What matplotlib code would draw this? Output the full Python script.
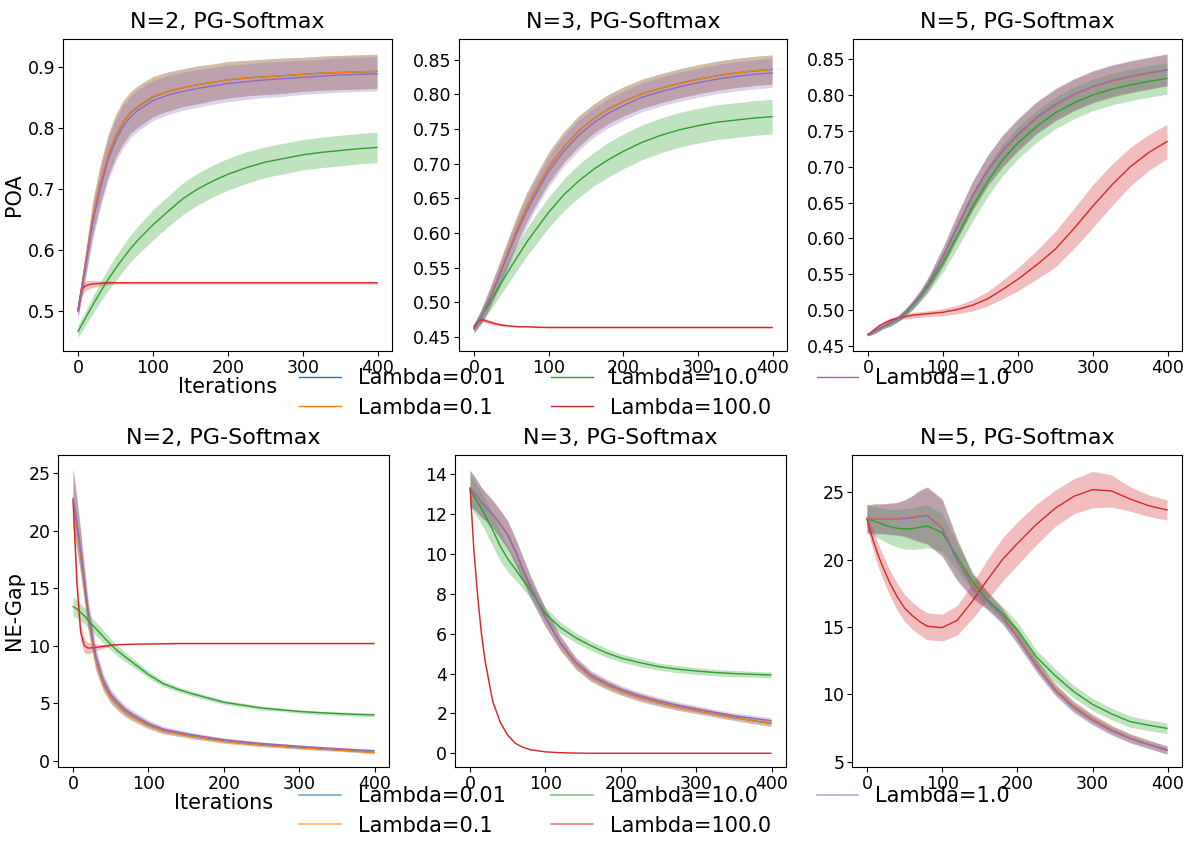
import matplotlib
matplotlib.use("Agg")
import matplotlib.pyplot as plt
from matplotlib.lines import Line2D
import numpy as np

iters = [0, 5, 10, 15, 20, 30, 40, 50, 60, 70, 80, 100, 120, 140, 160, 180, 200, 225, 250, 275, 300, 325, 350, 375, 399]

lambdas = ["0.01", "0.1", "10.0", "100.0", "1.0"]
colors = ["C0", "C1", "C2", "C3", "C4"]

# ---- POA, N=2 ----
poa2_l001 = [0.501, 0.539, 0.577, 0.616, 0.654, 0.709, 0.754, 0.786, 0.809, 0.825, 0.835, 0.851, 0.860, 0.866, 0.871, 0.875, 0.879, 0.882, 0.884, 0.886, 0.888, 0.890, 0.891, 0.892, 0.893]
poa2_l01 = [0.502, 0.540, 0.578, 0.617, 0.655, 0.710, 0.755, 0.787, 0.810, 0.826, 0.836, 0.852, 0.860, 0.866, 0.871, 0.875, 0.879, 0.882, 0.884, 0.886, 0.888, 0.890, 0.891, 0.892, 0.893]
poa2_l10 = [0.466, 0.477, 0.488, 0.499, 0.510, 0.531, 0.551, 0.569, 0.586, 0.602, 0.616, 0.641, 0.663, 0.684, 0.700, 0.713, 0.724, 0.735, 0.744, 0.750, 0.756, 0.760, 0.763, 0.766, 0.768]
poa2_l100 = [0.500, 0.535, 0.541, 0.543, 0.544, 0.545, 0.546, 0.546, 0.546, 0.546, 0.546, 0.546, 0.546, 0.546, 0.546, 0.546, 0.546, 0.546, 0.546, 0.546, 0.546, 0.546, 0.546, 0.546, 0.546]
poa2_l1 = [0.500, 0.536, 0.572, 0.610, 0.647, 0.702, 0.747, 0.779, 0.802, 0.818, 0.829, 0.845, 0.854, 0.860, 0.865, 0.869, 0.873, 0.876, 0.879, 0.881, 0.883, 0.885, 0.887, 0.888, 0.889]
poa2_sd_main = [0.010, 0.015, 0.020, 0.024, 0.028, 0.032, 0.034, 0.035, 0.035, 0.034, 0.034, 0.033, 0.032, 0.031, 0.031, 0.030, 0.030, 0.029, 0.029, 0.029, 0.028, 0.028, 0.028, 0.028, 0.028]
poa2_sd_l10 = [0.010, 0.011, 0.012, 0.013, 0.014, 0.016, 0.018, 0.020, 0.021, 0.022, 0.023, 0.025, 0.025, 0.026, 0.026, 0.026, 0.026, 0.026, 0.025, 0.025, 0.025, 0.025, 0.025, 0.025, 0.025]
poa2_sd_l100 = [0.012, 0.010, 0.008, 0.007, 0.006, 0.004, 0.003, 0.002, 0.002, 0.002, 0.002, 0.002, 0.002, 0.002, 0.002, 0.002, 0.002, 0.002, 0.002, 0.002, 0.002, 0.002, 0.002, 0.002, 0.002]

# ---- POA, N=3 ----
poa3_l001 = [0.462, 0.471, 0.481, 0.492, 0.504, 0.530, 0.557, 0.585, 0.612, 0.636, 0.657, 0.695, 0.724, 0.747, 0.765, 0.779, 0.790, 0.801, 0.809, 0.816, 0.822, 0.827, 0.831, 0.834, 0.836]
poa3_l01 = [0.462, 0.471, 0.481, 0.492, 0.504, 0.530, 0.557, 0.585, 0.612, 0.636, 0.657, 0.695, 0.724, 0.747, 0.765, 0.779, 0.790, 0.801, 0.809, 0.816, 0.822, 0.827, 0.831, 0.834, 0.836]
poa3_l10 = [0.465, 0.472, 0.480, 0.489, 0.498, 0.516, 0.534, 0.552, 0.569, 0.586, 0.601, 0.630, 0.655, 0.675, 0.692, 0.706, 0.718, 0.731, 0.741, 0.749, 0.755, 0.760, 0.763, 0.766, 0.768]
poa3_l100 = [0.465, 0.472, 0.475, 0.474, 0.472, 0.469, 0.467, 0.466, 0.465, 0.465, 0.4645, 0.464, 0.464, 0.464, 0.464, 0.464, 0.464, 0.464, 0.464, 0.464, 0.464, 0.464, 0.464, 0.464, 0.464]
poa3_l1 = [0.462, 0.470, 0.480, 0.491, 0.503, 0.528, 0.554, 0.581, 0.607, 0.630, 0.651, 0.689, 0.718, 0.741, 0.759, 0.773, 0.784, 0.796, 0.804, 0.811, 0.817, 0.822, 0.826, 0.829, 0.831]
poa3_sd_main = [0.006, 0.008, 0.010, 0.012, 0.014, 0.016, 0.018, 0.019, 0.020, 0.021, 0.021, 0.022, 0.022, 0.022, 0.021, 0.021, 0.021, 0.021, 0.021, 0.021, 0.021, 0.021, 0.021, 0.021, 0.021]
poa3_sd_l10 = [0.006, 0.008, 0.010, 0.011, 0.012, 0.014, 0.016, 0.018, 0.019, 0.020, 0.021, 0.022, 0.023, 0.024, 0.024, 0.025, 0.025, 0.025, 0.025, 0.025, 0.025, 0.025, 0.025, 0.025, 0.025]
poa3_sd_l100 = [0.004, 0.004, 0.004, 0.003, 0.003, 0.002, 0.002, 0.001, 0.001, 0.001, 0.001, 0.001, 0.001, 0.001, 0.001, 0.001, 0.001, 0.001, 0.001, 0.001, 0.001, 0.001, 0.001, 0.001, 0.001]

# ---- POA, N=5 ----
poa5_l001 = [0.466, 0.468, 0.471, 0.474, 0.477, 0.482, 0.488, 0.497, 0.508, 0.521, 0.536, 0.574, 0.618, 0.660, 0.695, 0.722, 0.744, 0.768, 0.786, 0.800, 0.811, 0.819, 0.825, 0.830, 0.835]
poa5_l01 = [0.466, 0.468, 0.471, 0.474, 0.477, 0.482, 0.488, 0.497, 0.508, 0.521, 0.536, 0.574, 0.618, 0.660, 0.695, 0.722, 0.744, 0.768, 0.786, 0.800, 0.811, 0.819, 0.825, 0.830, 0.835]
poa5_l10 = [0.466, 0.468, 0.471, 0.474, 0.477, 0.482, 0.488, 0.496, 0.507, 0.519, 0.533, 0.566, 0.605, 0.645, 0.680, 0.710, 0.733, 0.756, 0.775, 0.789, 0.800, 0.808, 0.814, 0.819, 0.823]
poa5_l100 = [0.466, 0.470, 0.474, 0.478, 0.481, 0.486, 0.489, 0.491, 0.493, 0.494, 0.495, 0.497, 0.501, 0.507, 0.516, 0.529, 0.543, 0.563, 0.585, 0.614, 0.645, 0.674, 0.700, 0.720, 0.735]
poa5_l1 = [0.466, 0.468, 0.471, 0.474, 0.477, 0.482, 0.488, 0.497, 0.508, 0.521, 0.536, 0.575, 0.619, 0.661, 0.696, 0.723, 0.745, 0.769, 0.787, 0.801, 0.812, 0.820, 0.826, 0.831, 0.835]
poa5_sd_main = [0.002, 0.002, 0.003, 0.003, 0.003, 0.004, 0.004, 0.005, 0.006, 0.007, 0.009, 0.013, 0.017, 0.020, 0.021, 0.022, 0.022, 0.022, 0.022, 0.022, 0.022, 0.022, 0.022, 0.022, 0.022]
poa5_sd_l10 = [0.002, 0.002, 0.003, 0.003, 0.003, 0.004, 0.004, 0.005, 0.006, 0.007, 0.009, 0.013, 0.017, 0.020, 0.021, 0.022, 0.022, 0.022, 0.022, 0.022, 0.022, 0.022, 0.022, 0.022, 0.022]
poa5_sd_l100 = [0.002, 0.002, 0.002, 0.002, 0.003, 0.003, 0.003, 0.003, 0.004, 0.004, 0.004, 0.005, 0.006, 0.008, 0.010, 0.013, 0.016, 0.020, 0.025, 0.028, 0.030, 0.029, 0.027, 0.025, 0.024]

# ---- NE-Gap, N=2 ----
gap2_l001 = [22.7, 20.5, 18.0, 15.2, 12.5, 8.7, 6.7, 5.5, 4.8, 4.2, 3.8, 3.1, 2.62, 2.37, 2.12, 1.92, 1.72, 1.55, 1.40, 1.29, 1.17, 1.07, 0.97, 0.87, 0.75]
gap2_l01 = [22.7, 20.5, 18.0, 15.2, 12.5, 8.7, 6.7, 5.5, 4.8, 4.2, 3.8, 3.1, 2.60, 2.35, 2.10, 1.90, 1.70, 1.53, 1.38, 1.27, 1.15, 1.05, 0.95, 0.85, 0.72]
gap2_l10 = [13.4, 13.2, 12.9, 12.6, 12.2, 11.5, 10.8, 10.1, 9.5, 9.0, 8.5, 7.5, 6.7, 6.2, 5.8, 5.45, 5.1, 4.85, 4.6, 4.45, 4.3, 4.2, 4.12, 4.05, 4.0]
gap2_l100 = [22.5, 15.5, 11.2, 10.0, 9.8, 9.85, 9.95, 10.05, 10.1, 10.12, 10.14, 10.16, 10.18, 10.2, 10.2, 10.2, 10.2, 10.2, 10.2, 10.2, 10.2, 10.2, 10.2, 10.2, 10.2]
gap2_l1 = [22.8, 20.8, 18.4, 15.7, 13.0, 9.1, 7.0, 5.75, 5.0, 4.4, 4.0, 3.25, 2.75, 2.5, 2.25, 2.05, 1.85, 1.68, 1.52, 1.40, 1.28, 1.17, 1.07, 0.98, 0.90]
gap2_sd_main = [2.6, 2.2, 1.8, 1.4, 1.1, 0.8, 0.6, 0.5, 0.45, 0.4, 0.35, 0.3, 0.25, 0.22, 0.2, 0.18, 0.16, 0.15, 0.14, 0.13, 0.12, 0.12, 0.11, 0.11, 0.1]
gap2_sd_l10 = [0.8, 0.8, 0.75, 0.7, 0.65, 0.6, 0.55, 0.5, 0.45, 0.4, 0.35, 0.3, 0.25, 0.22, 0.2, 0.2, 0.18, 0.17, 0.16, 0.15, 0.15, 0.15, 0.15, 0.15, 0.15]
gap2_sd_l100 = [1.5, 1.2, 0.8, 0.6, 0.5, 0.3, 0.15, 0.08, 0.05, 0.05, 0.05, 0.05, 0.05, 0.05, 0.05, 0.05, 0.05, 0.05, 0.05, 0.05, 0.05, 0.05, 0.05, 0.05, 0.05]

# ---- NE-Gap, N=3 ----
gap3_l001 = [13.3, 13.1, 12.85, 12.6, 12.4, 12.0, 11.5, 10.95, 10.15, 9.25, 8.35, 6.8, 5.5, 4.5, 3.85, 3.45, 3.12, 2.8, 2.55, 2.33, 2.15, 1.97, 1.8, 1.64, 1.5]
gap3_l01 = [13.3, 13.1, 12.85, 12.6, 12.4, 12.0, 11.5, 10.95, 10.15, 9.25, 8.35, 6.8, 5.5, 4.5, 3.85, 3.45, 3.12, 2.8, 2.55, 2.33, 2.15, 1.97, 1.8, 1.64, 1.5]
gap3_l10 = [13.2, 12.9, 12.6, 12.3, 11.95, 11.2, 10.4, 9.75, 9.25, 8.7, 8.2, 7.0, 6.3, 5.8, 5.4, 5.05, 4.78, 4.55, 4.35, 4.22, 4.13, 4.05, 4.0, 3.96, 3.93]
gap3_l100 = [13.3, 10.2, 7.9, 6.0, 4.6, 2.6, 1.55, 0.9, 0.5, 0.3, 0.18, 0.07, 0.03, 0.01, 0.0, 0.0, 0.0, 0.0, 0.0, 0.0, 0.0, 0.0, 0.0, 0.0, 0.0]
gap3_l1 = [13.3, 13.1, 12.85, 12.6, 12.4, 12.0, 11.5, 10.95, 10.15, 9.25, 8.35, 6.8, 5.55, 4.58, 3.93, 3.53, 3.2, 2.88, 2.63, 2.41, 2.23, 2.05, 1.88, 1.76, 1.64]
gap3_sd_main = [0.9, 0.85, 0.8, 0.75, 0.72, 0.7, 0.7, 0.7, 0.65, 0.6, 0.55, 0.45, 0.35, 0.28, 0.24, 0.22, 0.2, 0.19, 0.18, 0.17, 0.16, 0.15, 0.15, 0.15, 0.15]
gap3_sd_l10 = [0.8, 0.8, 0.8, 0.8, 0.8, 0.8, 0.75, 0.65, 0.55, 0.45, 0.4, 0.32, 0.28, 0.25, 0.23, 0.22, 0.2, 0.2, 0.18, 0.18, 0.17, 0.16, 0.16, 0.15, 0.15]
gap3_sd_l100 = [0.3, 0.25, 0.2, 0.17, 0.15, 0.1, 0.07, 0.05, 0.03, 0.02, 0.02, 0.01, 0.01, 0.01, 0.01, 0.01, 0.01, 0.01, 0.01, 0.01, 0.01, 0.01, 0.01, 0.01, 0.01]

# ---- NE-Gap, N=5 ----
gap5_l001 = [23.05, 23.05, 23.05, 23.05, 23.05, 23.05, 23.05, 23.1, 23.15, 23.25, 23.3, 22.4, 20.0, 18.1, 17.0, 15.85, 14.3, 12.2, 10.4, 9.1, 8.15, 7.37, 6.75, 6.29, 5.87]
gap5_l01 = [23.05, 23.05, 23.05, 23.05, 23.05, 23.05, 23.05, 23.1, 23.15, 23.25, 23.3, 22.4, 20.0, 18.1, 17.0, 15.85, 14.3, 12.2, 10.4, 9.1, 8.15, 7.37, 6.75, 6.29, 5.87]
gap5_l10 = [23.05, 22.95, 22.85, 22.75, 22.65, 22.45, 22.33, 22.28, 22.3, 22.4, 22.5, 22.0, 20.2, 18.4, 17.0, 16.0, 14.8, 12.8, 11.4, 10.2, 9.25, 8.55, 7.97, 7.7, 7.47]
gap5_l100 = [23.0, 22.0, 21.1, 20.3, 19.6, 18.3, 17.25, 16.4, 15.85, 15.4, 15.05, 14.95, 15.5, 16.9, 18.5, 20.0, 21.2, 22.6, 23.8, 24.7, 25.2, 25.1, 24.5, 24.0, 23.69]
gap5_l1 = [23.0, 23.0, 23.0, 23.0, 23.0, 23.0, 23.0, 23.05, 23.1, 23.2, 23.25, 22.3, 19.9, 18.0, 16.9, 15.75, 14.2, 12.1, 10.3, 9.0, 8.05, 7.3, 6.7, 6.25, 5.85]
gap5_sd_main = [1.05, 1.05, 1.1, 1.1, 1.1, 1.15, 1.2, 1.35, 1.6, 1.9, 2.1, 2.1, 1.5, 0.9, 0.65, 0.55, 0.5, 0.45, 0.4, 0.38, 0.35, 0.33, 0.32, 0.3, 0.3]
gap5_sd_l10 = [1.0, 1.05, 1.1, 1.15, 1.2, 1.3, 1.4, 1.5, 1.55, 1.6, 1.6, 1.4, 1.0, 0.7, 0.6, 0.55, 0.55, 0.5, 0.5, 0.47, 0.45, 0.43, 0.42, 0.4, 0.4]
gap5_sd_l100 = [0.6, 0.7, 0.8, 0.85, 0.9, 0.95, 1.0, 1.0, 1.0, 1.0, 1.0, 1.0, 1.1, 1.3, 1.5, 1.6, 1.6, 1.5, 1.35, 1.3, 1.35, 1.2, 0.9, 0.8, 0.75]

panels = [
    ("N=2, PG-Softmax", [poa2_l001, poa2_l01, poa2_l10, poa2_l100, poa2_l1],
     [poa2_sd_main, poa2_sd_main, poa2_sd_l10, poa2_sd_l100, poa2_sd_main]),
    ("N=3, PG-Softmax", [poa3_l001, poa3_l01, poa3_l10, poa3_l100, poa3_l1],
     [poa3_sd_main, poa3_sd_main, poa3_sd_l10, poa3_sd_l100, poa3_sd_main]),
    ("N=5, PG-Softmax", [poa5_l001, poa5_l01, poa5_l10, poa5_l100, poa5_l1],
     [poa5_sd_main, poa5_sd_main, poa5_sd_l10, poa5_sd_l100, poa5_sd_main]),
    ("N=2, PG-Softmax", [gap2_l001, gap2_l01, gap2_l10, gap2_l100, gap2_l1],
     [gap2_sd_main, gap2_sd_main, gap2_sd_l10, gap2_sd_l100, gap2_sd_main]),
    ("N=3, PG-Softmax", [gap3_l001, gap3_l01, gap3_l10, gap3_l100, gap3_l1],
     [gap3_sd_main, gap3_sd_main, gap3_sd_l10, gap3_sd_l100, gap3_sd_main]),
    ("N=5, PG-Softmax", [gap5_l001, gap5_l01, gap5_l10, gap5_l100, gap5_l1],
     [gap5_sd_main, gap5_sd_main, gap5_sd_l10, gap5_sd_l100, gap5_sd_main]),
]

ylims = [(0.434, 0.946), (0.430, 0.880), (0.443, 0.878),
         (-0.52, 26.56), (-0.69, 14.97), (4.6, 27.77)]
yticks = [[0.5, 0.6, 0.7, 0.8, 0.9],
          [0.45, 0.50, 0.55, 0.60, 0.65, 0.70, 0.75, 0.80, 0.85],
          [0.45, 0.50, 0.55, 0.60, 0.65, 0.70, 0.75, 0.80, 0.85],
          [0, 5, 10, 15, 20, 25],
          [0, 2, 4, 6, 8, 10, 12, 14],
          [5, 10, 15, 20, 25]]

W, H = 1189, 842
# axes boxes in pixels: left, top, right, bottom
boxes = [(63, 39, 392, 351), (459, 39, 787, 351), (853, 39, 1182, 351),
         (58, 455, 389, 767), (455, 455, 786, 767), (852, 455, 1182, 767)]

fig = plt.figure(figsize=(W / 100, H / 100), dpi=100)
x = np.array(iters)
for k, (title, means, sds) in enumerate(panels):
    l, t, r, b = boxes[k]
    ax = fig.add_axes([l / W, 1 - b / H, (r - l) / W, (b - t) / H])
    for m, s, c in zip(means, sds, colors):
        m = np.array(m); s = np.array(s)
        ax.plot(x, m, color=c, lw=1)
        ax.fill_between(x, m - s, m + s, color=c, alpha=0.3, lw=0)
    ax.set_title(title, fontsize=16, pad=8)
    ax.set_xlim(-20, 419)
    ax.set_ylim(*ylims[k])
    ax.set_xticks([0, 100, 200, 300, 400])
    ax.set_yticks(yticks[k])
    if k in (1, 2):
        ax.set_yticklabels([f"{v:.2f}" for v in yticks[k]])
    ax.tick_params(labelsize=12.5, pad=2)
    if k == 0:
        ax.set_ylabel("POA", fontsize=15, labelpad=3)
        ax.set_xlabel("Iterations", fontsize=15, labelpad=0)
    if k == 3:
        ax.set_ylabel("NE-Gap", fontsize=15, labelpad=3)
        ax.set_xlabel("Iterations", fontsize=15, labelpad=0)

labels = ["Lambda=" + v for v in lambdas]
top_handles = [Line2D([], [], color=c, lw=1) for c in colors]
bot_handles = [Line2D([], [], color=c, lw=1.2, alpha=0.6) for c in colors]
fig.legend(top_handles, labels, ncol=3, loc="upper left", frameon=False,
           fontsize=15, bbox_to_anchor=(291 / W, 1 - 360 / H), borderaxespad=0,
           labelspacing=0.45, columnspacing=2.2)
fig.legend(bot_handles, labels, ncol=3, loc="upper left", frameon=False,
           fontsize=15, bbox_to_anchor=(291 / W, 1 - 778 / H), borderaxespad=0,
           labelspacing=0.45, columnspacing=2.2)

fig.savefig("out.png", dpi=100)
